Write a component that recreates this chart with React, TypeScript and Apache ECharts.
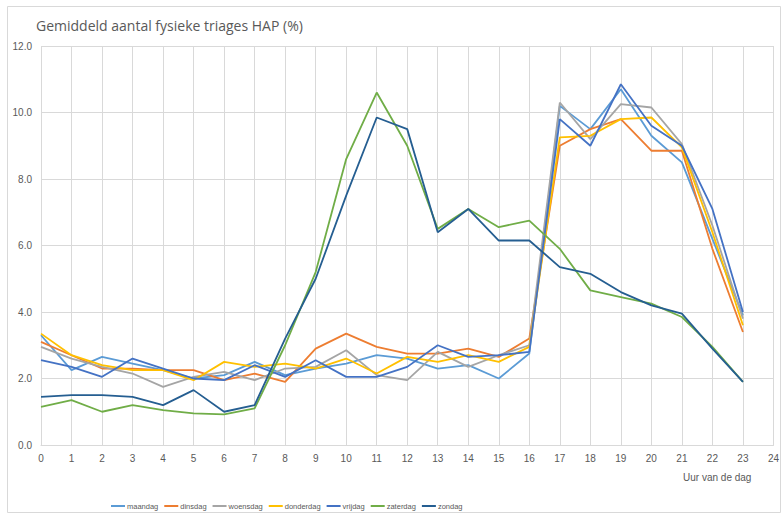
import React, { useEffect, useRef } from "react";
import * as echarts from "echarts";

const hours = ["0","1","2","3","4","5","6","7","8","9","10","11","12","13","14","15","16","17","18","19","20","21","22","23","24"];
const seriesNames = ["maandag","dinsdag","woensdag","donderdag","vrijdag","zaterdag","zondag"];
const colors = ["#5B9BD5","#ED7D31","#A5A5A5","#FFC000","#4472C4","#70AD47","#255E91"];

const maandag = [3.3,2.25,2.65,2.45,2.25,2.0,2.1,2.5,2.1,2.3,2.45,2.7,2.6,2.3,2.4,2.0,2.75,10.2,9.5,10.7,9.3,8.5,6.2,3.9];
const dinsdag = [3.1,2.7,2.3,2.3,2.25,2.25,1.95,2.15,1.9,2.9,3.35,2.95,2.75,2.75,2.9,2.65,3.2,9.0,9.5,9.8,8.85,8.85,5.9,3.4];
const woensdag = [2.95,2.6,2.35,2.15,1.75,2.05,2.2,1.95,2.3,2.35,2.85,2.1,1.95,2.8,2.35,2.7,3.0,10.3,9.2,10.25,10.15,9.05,6.6,3.8];
const donderdag = [3.35,2.7,2.4,2.25,2.25,1.95,2.5,2.35,2.45,2.3,2.6,2.15,2.65,2.5,2.7,2.5,2.95,9.25,9.3,9.8,9.85,8.95,6.4,3.6];
const vrijdag = [2.55,2.35,2.05,2.6,2.3,2.0,1.95,2.4,2.05,2.55,2.05,2.05,2.35,3.0,2.65,2.7,2.8,9.8,9.0,10.85,9.6,9.0,7.1,4.0];
const zaterdag = [1.15,1.35,1.0,1.2,1.05,0.95,0.92,1.1,3.0,5.2,8.6,10.6,9.0,6.5,7.1,6.55,6.75,5.9,4.65,4.45,4.25,3.85,2.95,1.9];
const zondag = [1.45,1.5,1.5,1.45,1.2,1.65,1.0,1.2,3.2,5.0,7.5,9.85,9.5,6.4,7.1,6.15,6.15,5.35,5.15,4.6,4.2,3.95,2.9,1.9];

const allData = [maandag, dinsdag, woensdag, donderdag, vrijdag, zaterdag, zondag];

export default function App() {
  const ref = useRef<HTMLDivElement>(null);
  useEffect(() => {
    if (!ref.current) return;
    const chart = echarts.init(ref.current, null, { renderer: "svg" });
    const font = "'Liberation Sans Narrow', 'Liberation Sans', Arial, sans-serif";
    chart.setOption({
      animation: false,
      textStyle: { fontFamily: font },
      title: {
        text: "Gemiddeld aantal fysieke triages HAP (%)",
        left: 31,
        top: 13,
        textStyle: { fontSize: 14, fontWeight: "normal", color: "#595959", fontFamily: "'Open Sans', 'Liberation Sans', sans-serif" },
      },
      graphic: [
        {
          type: "rect",
          shape: { x: 7.5, y: 6.5, width: 773, height: 506 },
          style: { fill: "none", stroke: "#d9d9d9", lineWidth: 1 },
          silent: true,
        },
      ],
      grid: { left: 41, right: 7, top: 46, bottom: 69, containLabel: false },
      legend: {
        data: seriesNames,
        left: 106,
        top: 497,
        itemWidth: 14,
        itemHeight: 2,
        itemGap: 6,
        icon: "rect",
        textStyle: { fontSize: 7.5, color: "#595959", fontFamily: font, padding: [0, 0, 0, -3] },
      },
      xAxis: {
        type: "category",
        data: hours,
        boundaryGap: false,
        name: "Uur van de dag",
        nameLocation: "end",
        nameGap: 0,
        nameTextStyle: {
          fontSize: 10,
          color: "#595959",
          align: "right",
          verticalAlign: "top",
          padding: [27, 22, 0, 0],
          fontFamily: font,
        },
        axisLine: { show: true, lineStyle: { color: "#d9d9d9", width: 1 } },
        axisTick: { show: false },
        axisLabel: { fontSize: 10, color: "#595959", margin: 8, interval: 0 },
        splitLine: { show: true, lineStyle: { color: "#d9d9d9", width: 1 } },
      },
      yAxis: {
        type: "value",
        min: 0,
        max: 12,
        interval: 2,
        axisLine: { show: false },
        axisTick: { show: false },
        axisLabel: {
          fontSize: 10,
          color: "#595959",
          margin: 9,
          formatter: (v: number) => v.toFixed(1),
        },
        splitLine: { show: true, lineStyle: { color: "#d9d9d9", width: 1 } },
      },
      series: seriesNames.map((name, i) => ({
        name,
        type: "line",
        data: allData[i],
        showSymbol: false,
        symbol: "none",
        lineStyle: { color: colors[i], width: 1.8 },
        itemStyle: { color: colors[i] },
      })),
    });
    return () => chart.dispose();
  }, []);
  return <div ref={ref} style={{ width: 782, height: 514, position: "absolute", left: 0, top: 0, background: "#fff" }} />;
}
